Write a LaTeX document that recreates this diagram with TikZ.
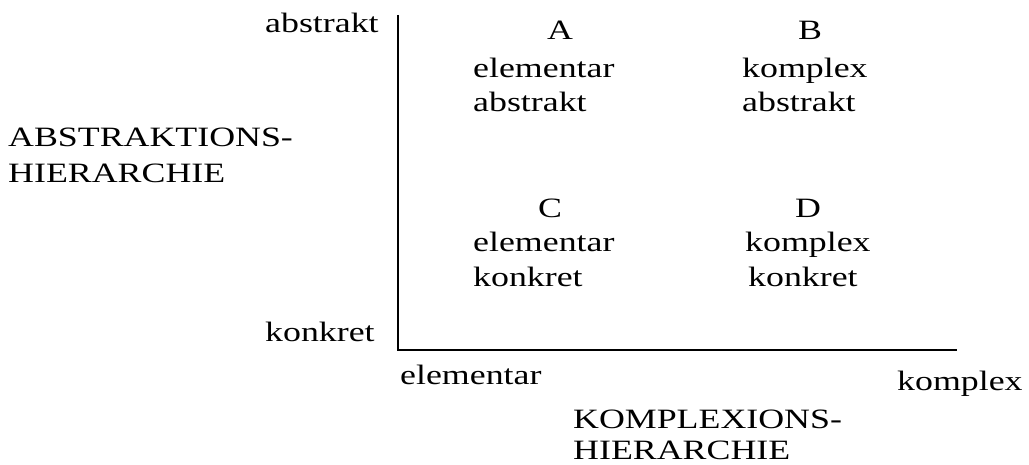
\documentclass[tikz,border=0pt]{standalone}
\usepackage{fontspec}
\setmainfont[FakeStretch=1.28]{Liberation Serif}
\begin{document}
\begin{tikzpicture}[x=1pt,y=1pt,
  lab/.style={anchor=base west, inner sep=0pt, font=\fontsize{28}{30}\selectfont},
  ctr/.style={anchor=base, inner sep=0pt, font=\fontsize{28}{30}\selectfont},
  axis/.style={line width=1.6pt}]
\useasboundingbox (0,0) rectangle (1029,464);
% axes
\coordinate (top) at (398,449);
\coordinate (origin) at (398,114);
\coordinate (right) at (957,114);
\draw[axis] (top) -- (origin) -- (right);
% axis end labels
\node[lab] (yabs) at (265,431) {abstrakt};
\node[lab] (ykon) at (265,122) {konkret};
\node[lab] (xel) at (400,79) {elementar};
\node[lab] (xko) at (897,74) {komplex};
% axis titles
\node[lab] (ah1) at (8,317) {ABSTRAKTIONS-};
\node[lab] (ah2) at (8,281) {HIERARCHIE};
\node[lab] (kh1) at (573,35) {KOMPLEXIONS-};
\node[lab] (kh2) at (573,5) {HIERARCHIE};
% quadrant A
\node[ctr] (A) at (560,424) {A};
\node[lab] (A1) at (473,386) {elementar};
\node[lab] (A2) at (473,352) {abstrakt};
% quadrant B
\node[ctr] (B) at (810,424) {B};
\node[lab] (B1) at (742,386) {komplex};
\node[lab] (B2) at (742,352) {abstrakt};
% quadrant C
\node[ctr] (C) at (550,246) {C};
\node[lab] (C1) at (473,212) {elementar};
\node[lab] (C2) at (473,177) {konkret};
% quadrant D
\node[ctr] (D) at (808,246) {D};
\node[lab] (D1) at (745,212) {komplex};
\node[lab] (D2) at (748,177) {konkret};
\end{tikzpicture}
\end{document}
